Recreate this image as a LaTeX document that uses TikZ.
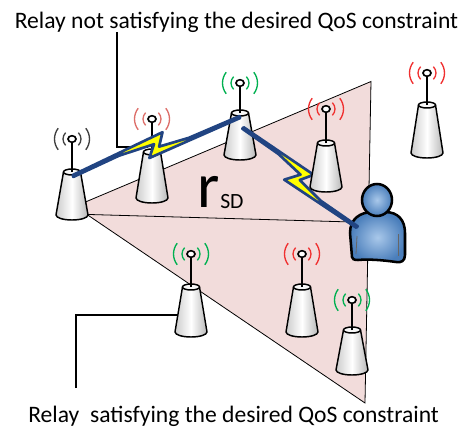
\documentclass[tikz,border=0pt]{standalone}
\usepackage{fontspec}
\setmainfont{Carlito}
\usetikzlibrary{calc}

\definecolor{zonepink}{HTML}{F2DCDB}
\definecolor{boltblue}{RGB}{33,68,130}
\definecolor{boltyellow}{HTML}{FFFF00}
\definecolor{wavered}{HTML}{F03030}
\definecolor{wavesoftred}{HTML}{DD6F6A}
\definecolor{wavegreen}{HTML}{00B050}
\definecolor{wavegray}{HTML}{404040}
\definecolor{userlight}{HTML}{A9C8EA}
\definecolor{userdark}{HTML}{4A7EBB}

\tikzset{
  zone/.style={fill=zonepink, draw=black, line width=0.6pt},
  rangeline/.style={draw=black, line width=0.6pt},
  callout/.style={draw=black, line width=2pt},
  caption/.style={inner sep=0pt, font=\fontsize{17.7}{20}\selectfont},
  towerbody/.style={draw=black, line width=1.1pt, line join=round,
    left color=gray!40, right color=gray!55, middle color=white},
  towertop/.style={draw=black, line width=1.1pt, fill=gray!6},
  mast/.style={draw=black, line width=1.3pt},
  beacon/.style={draw=black, line width=1.2pt, fill=white},
  wave/.style={draw=#1, line width=1pt},
  bolt/.style={draw=boltblue, fill=boltyellow, line width=2pt, line join=round},
  usershape/.style={draw=black, line width=1.9pt, inner color=userlight, outer color=userdark},
  userfold/.style={draw=black!60, line width=0.6pt},
}

% relay tower: name, x, beacon y, top y, base y, wave colour
\newcommand{\relaytower}[6]{%
  \path[towerbody] (#2-8.5,#4) -- (#2-16,#5)
    arc[start angle=180, end angle=0, x radius=16, y radius=5] -- (#2+8.5,#4) -- cycle;
  \draw[towertop] (#2,#4) ellipse[x radius=8.5, y radius=3];
  \draw[mast] (#2,#4) -- (#2,#3+3);
  \draw[beacon] (#2,#3) ellipse[x radius=4, y radius=3.3];
  \draw[wave=#6] ([shift={(45:9)}]#2,#3) arc[start angle=45, end angle=-45, radius=9];
  \draw[wave=#6] ([shift={(135:9)}]#2,#3) arc[start angle=135, end angle=225, radius=9];
  \draw[wave=#6] ([shift={(38:17.5)}]#2,#3) arc[start angle=38, end angle=-38, radius=17.5];
  \draw[wave=#6] ([shift={(142:17.5)}]#2,#3) arc[start angle=142, end angle=218, radius=17.5];
  \coordinate (#1) at (#2,#4);
}

\begin{document}
\begin{tikzpicture}[x=0.75pt, y=-0.75pt]
\useasboundingbox (0,0) rectangle (469,432);

% coverage zone
\coordinate (za) at (75,206.4);
\coordinate (zb) at (371,81.5);
\coordinate (zc) at (365,403);
\path[zone] (za) -- (zb) -- (zc) -- cycle;

% source-destination range
\coordinate (src) at (72,214);
\coordinate (dst) at (352,222);
\draw[rangeline] (src) -- (dst);
\node[anchor=base west, inner sep=0pt, font=\fontsize{48}{50}\selectfont] (rlab) at (197,208) {r};
\node[anchor=base west, inner sep=0pt, font=\fontsize{16.3}{18}\selectfont] (sdlab) at (220,209) {SD};

% captions and their leaders
\node[caption, anchor=base] (badcap) at (236.5,28) {Relay not satisfying the desired QoS constraint};
\node[caption, anchor=base west] (goodcap) at (28,422) {Relay\ \ satisfying the desired QoS constraint};
\coordinate (badbend) at (117,147);
\coordinate (badend) at (148,147);
\draw[callout] (117,32) -- (badbend) -- (badend);
\coordinate (goodbend) at (76,315);
\coordinate (goodend) at (177,315);
\draw[callout] (76,388) -- (goodbend) -- (goodend);

% destination user
\path[usershape] (352,257) -- (350,233)
  .. controls (350,219) and (360,212) .. (373,212) -- (385,212)
  .. controls (398,212) and (405,220) .. (405,233) -- (405,255)
  .. controls (405,261) and (401,263) .. (396,262)
  .. controls (382,260) and (368,259) .. (358,260)
  .. controls (354,260) and (352,259) .. (352,257) -- cycle;
\draw[userfold] (357,236) -- (356,254);
\draw[userfold] (398,234) -- (398,256);
\path[usershape] (377,200) ellipse[x radius=15, y radius=16];
\coordinate (user) at (357,227);

% source, first relay, selected relay
\relaytower{t1}{72}{139}{172}{215}{wavegray}
\relaytower{t2}{152}{119}{152}{198}{wavesoftred}
\relaytower{t3}{240}{83}{113}{155}{wavegreen}

% wireless links (local frame: along the link, offset across it)
\begin{scope}[shift={(73,176)}, rotate=19.46]
  \draw[bolt] (0,-1) -- (99,-11.5) -- (91,1) -- (122,2.6) -- (177,-1) -- (177,1)
    -- (78,8.5) -- (87,-3) -- (50,-3.8) -- (0,1) -- cycle;
\end{scope}
\begin{scope}[shift={(243,128)}, rotate=-40.97]
  \draw[bolt] (0,-1) -- (84,-11) -- (77,2) -- (106,4) -- (151,-1) -- (151,1)
    -- (65,12) -- (74,-2.5) -- (44,-3.6) -- (0,1) -- cycle;
\end{scope}

% remaining relays
\relaytower{t4}{326}{109}{143}{187}{wavered}
\relaytower{t5}{427}{73}{105}{153}{wavered}
\relaytower{t6}{191}{254}{287}{332}{wavegreen}
\relaytower{t7}{302}{254}{287}{332}{wavered}
\relaytower{t8}{352}{300}{330}{370}{wavegreen}
\end{tikzpicture}
\end{document}
